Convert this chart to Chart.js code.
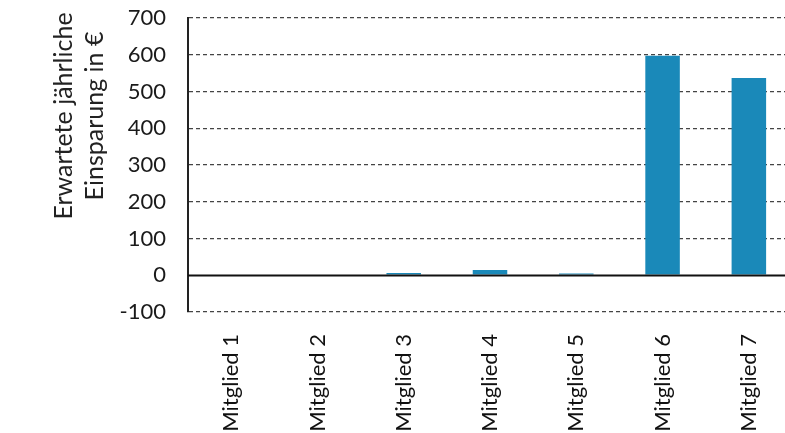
<!DOCTYPE html>
<html>
<head>
<meta charset="utf-8">
<script src="https://cdn.jsdelivr.net/npm/chart.js@4.4.1/dist/chart.umd.min.js"></script>
<style>
  html, body { margin: 0; padding: 0; background: #fff; overflow: hidden; }
  #wrap { width: 792px; height: 433px; }
</style>
</head>
<body>
<div id="wrap"><canvas id="c" width="792" height="433"></canvas></div>
<script>
const categories = ["Mitglied 1", "Mitglied 2", "Mitglied 3", "Mitglied 4", "Mitglied 5", "Mitglied 6", "Mitglied 7"];
const savings = [0, 0, 6, 14, 5, 597, 537];
const yMin = -100, yMax = 700, yStep = 100;
const yTitle = ["Erwartete jährliche", "Einsparung in €"];

const FONT = "Lato, 'Open Sans', sans-serif";

const zeroLine = {
  id: 'zeroLine',
  afterDatasetsDraw(chart) {
    const y = chart.scales.y, area = chart.chartArea, ctx = chart.ctx;
    const py = Math.round(y.getPixelForValue(0)) + 0.5;
    ctx.save();
    ctx.strokeStyle = '#111';
    ctx.lineWidth = 2;
    ctx.beginPath();
    ctx.moveTo(area.left, py);
    ctx.lineTo(area.right, py);
    ctx.stroke();
    ctx.restore();
  }
};

const axisTitle = {
  id: 'axisTitle',
  afterDraw(chart) {
    const ctx = chart.ctx;
    ctx.save();
    ctx.fillStyle = '#222';
    ctx.font = "25px " + FONT;
    ctx.textAlign = 'center';
    ctx.textBaseline = 'middle';
    ctx.translate(0, 116);
    ctx.rotate(-Math.PI / 2);
    ctx.fillText(yTitle[0], 0, 64);
    ctx.fillText(yTitle[1], 0, 95);
    ctx.restore();
  }
};

new Chart(document.getElementById('c'), {
  type: 'bar',
  data: {
    labels: categories,
    datasets: [{
      data: savings,
      backgroundColor: '#1a89b9',
      borderWidth: 0,
      barPercentage: 0.4,
      categoryPercentage: 1.0
    }]
  },
  options: {
    responsive: false,
    animation: false,
    devicePixelRatio: 1,
    layout: { padding: { top: 18, left: 0, right: 0, bottom: 0 } },
    plugins: { legend: { display: false }, tooltip: { enabled: false } },
    scales: {
      x: {
        grid: { display: false },
        border: { display: false },
        ticks: {
          color: '#111',
          font: { family: FONT, size: 22 },
          minRotation: 90, maxRotation: 90,
          padding: 14
        },
        afterFit(s) { s.height = 121; }
      },
      y: {
        min: yMin, max: yMax,
        ticks: {
          stepSize: yStep,
          color: '#1a1a1a',
          font: { family: FONT, size: 22 },
          padding: 0
        },
        grid: {
          color: ctx => (ctx.tick && ctx.tick.value === 0) ? 'rgba(0,0,0,0)' : '#444',
          lineWidth: 1.3,
          drawTicks: true,
          tickLength: 22,
          tickColor: 'rgba(0,0,0,0)'
        },
        border: { display: true, color: '#222', width: 2, dash: [4, 3] },
        afterFit(s) { s.width = 188; }
      }
    }
  },
  plugins: [zeroLine, axisTitle]
});
</script>
</body>
</html>
